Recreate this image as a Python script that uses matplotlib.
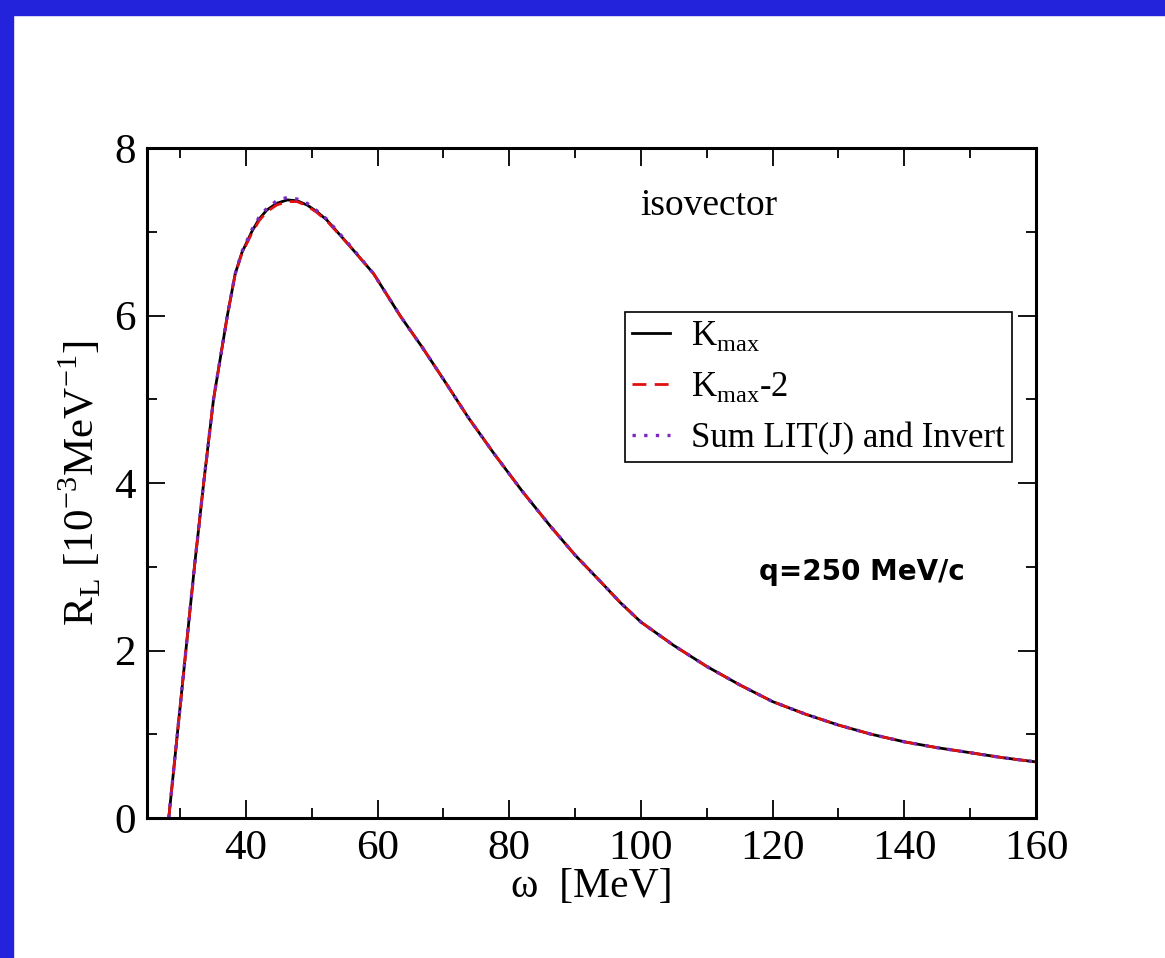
import matplotlib
matplotlib.use("Agg")
import matplotlib.pyplot as plt
from matplotlib.patches import Rectangle

plt.rcParams["font.family"] = ["Liberation Serif", "DejaVu Serif"]
plt.rcParams["mathtext.fontset"] = "custom"
plt.rcParams["mathtext.rm"] = "Liberation Serif"

# omega [MeV] and R_L [10^-3 MeV^-1]
omega = [28.3, 29.6, 30.9, 32.2, 33.6, 35.1, 37.2, 38.4, 39.4, 40.9, 42.0, 43.2, 44.7,
         46.3, 47.8, 49.3, 50.8, 52.3, 55.9, 59.4, 63.5, 66.8, 70.0, 73.8, 77.7, 82.0,
         86.3, 90.0, 93.9, 96.9, 100, 105, 110, 115, 120, 125, 130, 135, 140,
         145, 150, 155, 160]
r_kmax = [0.0, 1.0, 2.0, 3.0, 4.0, 5.0, 6.0, 6.5, 6.75, 7.0, 7.15, 7.26, 7.34,
          7.38, 7.37, 7.32, 7.24, 7.14, 6.82, 6.5, 5.99, 5.62, 5.24, 4.78, 4.35, 3.9,
          3.48, 3.14, 2.82, 2.57, 2.34, 2.06, 1.81, 1.59, 1.39, 1.24, 1.11, 1.0, 0.91,
          0.84, 0.78, 0.72, 0.67]
r_kmax2 = [0.0, 1.0, 2.0, 3.0, 4.0, 5.0, 6.0, 6.5, 6.74, 6.98, 7.13, 7.24, 7.32,
           7.36, 7.36, 7.31, 7.23, 7.13, 6.82, 6.5, 5.99, 5.62, 5.24, 4.78, 4.35, 3.9,
           3.48, 3.14, 2.82, 2.57, 2.34, 2.06, 1.81, 1.59, 1.39, 1.24, 1.11, 1.0, 0.91,
           0.84, 0.78, 0.72, 0.67]
r_sum = [0.0, 1.0, 2.0, 3.0, 4.0, 5.0, 6.0, 6.5, 6.76, 7.02, 7.17, 7.28, 7.37,
         7.41, 7.39, 7.34, 7.25, 7.15, 6.83, 6.5, 5.99, 5.62, 5.24, 4.78, 4.35, 3.9,
         3.48, 3.14, 2.82, 2.57, 2.34, 2.06, 1.81, 1.59, 1.39, 1.24, 1.11, 1.0, 0.91,
         0.84, 0.78, 0.72, 0.67]

labels = [r"K$_{\mathrm{max}}$", r"K$_{\mathrm{max}}$-2", "Sum LIT(J) and Invert"]

fig = plt.figure(figsize=(11.65, 9.58), dpi=100)
# blue slide border on the left and top
fig.patches.append(Rectangle((0, 0), 13 / 1165, 1, transform=fig.transFigure,
                             color="#2323dc", zorder=0))
fig.patches.append(Rectangle((0, 1 - 15 / 958), 1, 15 / 958, transform=fig.transFigure,
                             color="#2323dc", zorder=0))

ax = fig.add_axes([0.1262, 0.1461, 0.7631, 0.6994])
ax.plot(omega, r_kmax, color="black", lw=2.0, label=labels[0])
ax.plot(omega, r_kmax2, color="#e01010", lw=2.0, ls=(0, (5, 3)), label=labels[1])
ax.plot(omega, r_sum, color="#7a28c0", lw=2.4, ls=(0, (1, 2.5)), label=labels[2])

ax.set_xlim(25, 160)
ax.set_ylim(0, 8)
ax.set_xticks([40, 60, 80, 100, 120, 140, 160])
ax.set_xticks(range(30, 160, 20), minor=True)
ax.set_yticks([0, 2, 4, 6, 8])
ax.set_yticks([1, 3, 5, 7], minor=True)
ax.tick_params(which="both", direction="in", top=True, right=True, labelsize=31, width=1.3)
ax.tick_params(which="major", length=13, pad=8)
ax.tick_params(which="minor", length=7)
for s in ax.spines.values():
    s.set_linewidth(2.2)

ax.set_xlabel("ω  [MeV]", fontsize=30, labelpad=0)
ax.set_ylabel(r"R$_{\mathrm{L}}$ [10$^{\mathrm{-3}}$MeV$^{\mathrm{-1}}$]", fontsize=31, labelpad=8)

ax.text(0.555, 0.90, "isovector", transform=ax.transAxes, fontsize=27)
ax.text(0.92, 0.355, "q=250 MeV/c", transform=ax.transAxes, fontsize=20,
        fontweight="bold", family="DejaVu Sans", ha="right")

leg = ax.legend(loc="upper right", bbox_to_anchor=(0.973, 0.755), borderaxespad=0,
                fontsize=25, handlelength=1.1, handletextpad=0.6, labelspacing=0.5,
                borderpad=0.2, fancybox=False, framealpha=1, edgecolor="black")
leg.get_frame().set_linewidth(1.2)

fig.savefig("out.png", dpi=100, facecolor="white")
